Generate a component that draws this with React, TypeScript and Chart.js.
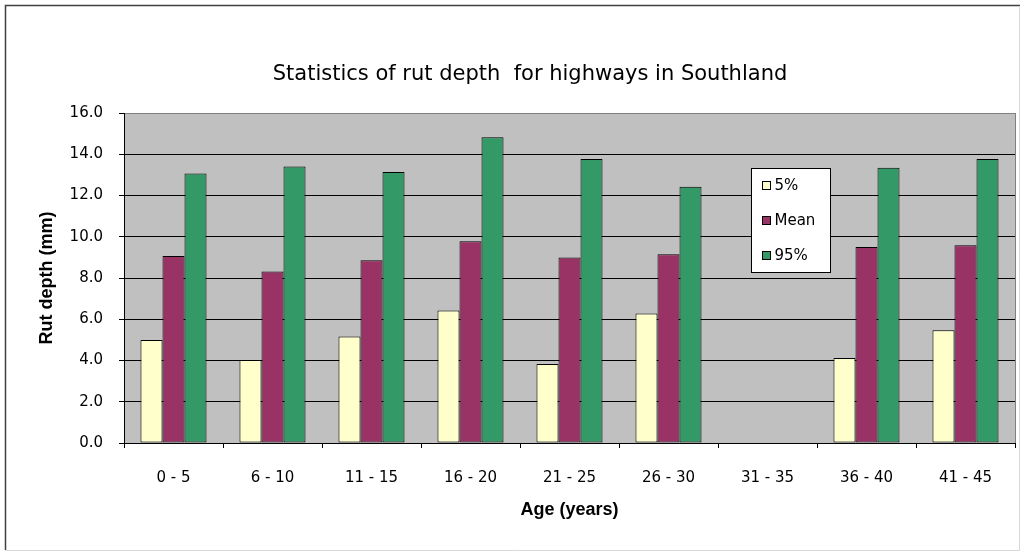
import React, { useEffect, useRef } from 'react';
import { Chart, registerables } from 'chart.js';

Chart.register(...registerables);

const chartTitle = 'Statistics of rut depth  for highways in Southland';
const xTitle = 'Age (years)';
const yTitle = 'Rut depth (mm)';
const categories = ['0 - 5', '6 - 10', '11 - 15', '16 - 20', '21 - 25', '26 - 30', '31 - 35', '36 - 40', '41 - 45'];
const seriesNames = ['5%', 'Mean', '95%'];
const seriesColors = ['#FFFFCC', '#993366', '#339966'];
const p5Values = [5.0, 4.03, 5.16, 6.42, 3.83, 6.28, null, 4.12, 5.47];
const meanValues = [9.07, 8.31, 8.86, 9.78, 9.0, 9.15, null, 9.5, 9.59];
const p95Values = [13.07, 13.41, 13.14, 14.82, 13.77, 12.43, null, 13.35, 13.77];
const yMin = 0;
const yMax = 16;
const yStep = 2;

const FONT = "'DejaVu Sans', Arial, sans-serif";
const BOLD_FONT = "'Liberation Sans', Arial, sans-serif";

const plotBackground = {
  id: 'plotBackground',
  beforeDraw(chart: any) {
    const { ctx, chartArea } = chart;
    ctx.save();
    ctx.fillStyle = '#FFFFFF';
    ctx.fillRect(0, 0, chart.width, chart.height);
    ctx.fillStyle = '#C0C0C0';
    ctx.fillRect(chartArea.left, chartArea.top, chartArea.right - chartArea.left, chartArea.bottom - chartArea.top);
    ctx.restore();
  },
  afterDraw(chart: any) {
    const { ctx, chartArea } = chart;
    ctx.save();
    // right border of plot area
    ctx.strokeStyle = '#808080';
    ctx.lineWidth = 1;
    ctx.beginPath();
    ctx.moveTo(Math.round(chartArea.right) + 0.5, chartArea.top);
    ctx.lineTo(Math.round(chartArea.right) + 0.5, chartArea.bottom);
    ctx.stroke();
    // outer chart border
    ctx.strokeStyle = '#404040';
    ctx.lineWidth = 1.5;
    ctx.beginPath();
    ctx.moveTo(5.5, chart.height - 2);
    ctx.lineTo(5.5, 5.5);
    ctx.lineTo(chart.width - 5, 5.5);
    ctx.stroke();
    ctx.strokeStyle = '#D8D8D8';
    ctx.lineWidth = 1;
    ctx.beginPath();
    ctx.moveTo(5.5, chart.height - 1.5);
    ctx.lineTo(chart.width - 5.5, chart.height - 1.5);
    ctx.lineTo(chart.width - 5.5, 6);
    ctx.stroke();
    ctx.restore();
  },
};

const insideLegend = {
  id: 'insideLegend',
  afterDatasetsDraw(chart: any) {
    const { ctx, chartArea } = chart;
    const x = Math.round(chartArea.left + 627) + 0.5;
    const y = Math.round(chartArea.top + 55) + 0.5;
    const w = 79;
    const h = 104;
    ctx.save();
    ctx.fillStyle = '#FFFFFF';
    ctx.fillRect(x, y, w, h);
    ctx.strokeStyle = '#000000';
    ctx.lineWidth = 1;
    ctx.strokeRect(x, y, w, h);
    ctx.font = `15px ${FONT}`;
    ctx.textBaseline = 'middle';
    ctx.textAlign = 'left';
    chart.data.datasets.forEach((ds: any, i: number) => {
      const cy = y + 17 + i * 35;
      ctx.fillStyle = ds.backgroundColor;
      ctx.fillRect(x + 11, cy - 4, 8, 8);
      ctx.strokeStyle = '#000000';
      ctx.strokeRect(x + 11, cy - 4, 8, 8);
      ctx.fillStyle = '#000000';
      ctx.fillText(ds.label, x + 23, cy + 1);
    });
    ctx.restore();
  },
};

export default function App() {
  const canvasRef = useRef<HTMLCanvasElement | null>(null);

  useEffect(() => {
    document.body.style.margin = '0';
    const canvas = canvasRef.current;
    if (!canvas) return;
    const values = [p5Values, meanValues, p95Values];
    const chart = new Chart(canvas, {
      type: 'bar',
      data: {
        labels: categories,
        datasets: seriesNames.map((name, i) => ({
          label: name,
          data: values[i],
          backgroundColor: seriesColors[i],
          borderColor: '#000000',
          borderWidth: 1,
          borderSkipped: false,
          barPercentage: 1.0,
          categoryPercentage: 0.667,
        })),
      },
      options: {
        responsive: false,
        animation: false,
        devicePixelRatio: 1,
        layout: { padding: { left: 45, right: 10, top: 0, bottom: 0 } },
        plugins: {
          legend: { display: false },
          tooltip: { enabled: false },
          title: {
            display: true,
            text: chartTitle,
            color: '#000000',
            font: { family: FONT, size: 21, weight: 'normal' },
            padding: { top: 62.4, bottom: 25.4 },
          },
        },
        scales: {
          x: {
            offset: true,
            grid: {
              display: true,
              drawOnChartArea: false,
              drawTicks: true,
              tickLength: 5,
              color: '#000000',
              offset: true,
            },
            border: { display: true, color: '#000000', width: 1 },
            ticks: {
              color: '#000000',
              font: { family: FONT, size: 15 },
              padding: 21,
              maxRotation: 0,
              autoSkip: false,
            },
            title: {
              display: true,
              text: xTitle,
              color: '#000000',
              font: { family: BOLD_FONT, size: 18, weight: 'bold' },
              padding: { top: 0, bottom: 31.2 },
            },
            afterFit: (scale: any) => {
              scale.height = 109;
            },
          },
          y: {
            min: yMin,
            max: yMax,
            grid: {
              display: true,
              drawTicks: true,
              tickLength: 5,
              color: (c: any) => (c.tick && c.tick.value === yMax ? '#808080' : '#000000'),
              tickColor: '#000000',
            },
            border: { display: true, color: '#000000', width: 1 },
            ticks: {
              stepSize: yStep,
              color: '#000000',
              font: { family: FONT, size: 15 },
              padding: 16,
              callback: (v: any) => Number(v).toFixed(1),
            },
            title: {
              display: true,
              text: yTitle,
              color: '#000000',
              font: { family: BOLD_FONT, size: 18, weight: 'bold' },
              padding: { top: -8.8, bottom: 0 },
            },
            afterFit: (scale: any) => {
              scale.width = 79;
            },
          },
        },
      },
      plugins: [plotBackground, insideLegend],
    });
    return () => chart.destroy();
  }, []);

  return (
    <div style={{ width: 1025, height: 552 }}>
      <canvas ref={canvasRef} width={1025} height={552} style={{ display: 'block' }} />
    </div>
  );
}
